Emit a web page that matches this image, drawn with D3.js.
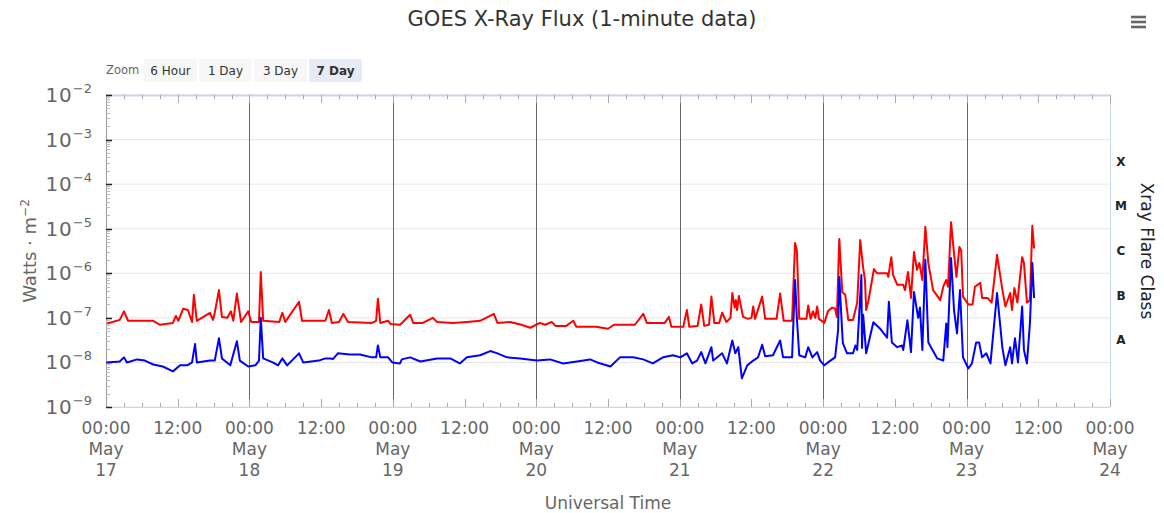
<!DOCTYPE html>
<html>
<head>
<meta charset="utf-8">
<script src="https://cdn.jsdelivr.net/npm/d3@7"></script>
<style>
  body { margin: 0; background: #fff; }
  svg text { font-family: "DejaVu Sans", sans-serif; }
</style>
</head>
<body>
<div id="graf"></div>
<script>
// hours since May 17 00:00 UTC, flux in W/m2
const longTimes = [0.2, 2.3, 3.0, 3.7, 5.2, 7.9, 9.0, 11.2, 11.7, 12.1, 12.9, 13.7, 14.4, 14.7, 15.2, 17.4, 17.9, 18.2, 18.9, 19.4,
  20.3, 20.9, 21.3, 21.9, 22.6, 23.8, 24.3, 25.6, 25.9, 26.3, 29.0, 29.5, 30.0, 32.3, 32.8, 35.6, 36.7, 37.3, 37.8, 39.0,
  39.7, 40.5, 44.5, 45.2, 45.5, 45.9, 47.2, 47.6, 49.2, 50.9, 51.4, 53.0, 54.7, 55.4, 58.0, 60.4, 62.6, 64.9, 65.5, 67.6,
  69.5, 71.0, 72.6, 73.5, 74.6, 75.2, 77.0, 78.2, 78.7, 82.0, 84.0, 85.0, 88.5, 89.9, 90.5, 93.5, 94.2, 94.6, 96.6, 97.2,
  97.6, 99.0, 99.6, 100.1, 100.9, 101.3, 101.8, 102.6, 103.1, 103.8, 104.5, 104.8, 105.2, 105.4, 105.6, 105.9, 106.6, 107.4, 108.0, 108.3,
  108.6, 109.8, 110.3, 112.2, 112.8, 113.4, 114.8, 115.3, 115.6, 116.0, 117.2, 117.5, 117.9, 118.3, 118.7, 119.0, 119.3, 120.2, 120.8, 121.5,
  122.0, 122.3, 122.7, 123.2, 123.7, 124.2, 125.0, 125.4, 125.7, 126.2, 126.7, 127.0, 127.2, 127.6, 128.5, 129.0, 130.7, 130.9, 131.4, 131.7,
  132.4, 133.4, 133.7, 134.2, 134.7, 135.2, 135.7, 136.1, 136.6, 137.1, 137.6, 138.4, 139.6, 140.1, 140.6, 140.9, 141.4, 141.9, 142.3, 142.8,
  143.1, 143.4, 144.3, 145.0, 145.4, 146.3, 146.6, 147.5, 148.2, 149.1, 150.0, 150.5, 151.3, 151.6, 152.0, 152.5, 153.3, 153.6, 154.1, 154.6,
  155.0, 155.3];
const longFlux = [7.5e-8, 9.0e-8, 1.4e-7, 8.6e-8, 8.6e-8, 8.6e-8, 7.0e-8, 7.7e-8, 1.1e-7, 8.6e-8, 1.6e-7, 1.5e-7, 8.1e-8, 3.3e-7, 8.6e-8, 1.3e-7, 9.0e-8, 1.3e-7, 4.2e-7, 1.05e-7,
  1.0e-7, 1.4e-7, 8.6e-8, 3.5e-7, 8.1e-8, 1.4e-7, 8.1e-8, 8.1e-8, 1.07e-6, 8.6e-8, 8.1e-8, 1.3e-7, 8.1e-8, 2.3e-7, 8.6e-8, 8.6e-8, 8.6e-8, 1.5e-7, 7.7e-8, 8.1e-8,
  1.23e-7, 8.1e-8, 7.7e-8, 8.6e-8, 2.7e-7, 7.7e-8, 8.6e-8, 7.3e-8, 7.0e-8, 1.17e-7, 7.7e-8, 7.7e-8, 1.0e-7, 8.1e-8, 7.7e-8, 8.1e-8, 8.6e-8, 1.23e-7, 7.7e-8, 8.1e-8,
  7.0e-8, 6.0e-8, 7.7e-8, 7.0e-8, 8.1e-8, 6.6e-8, 6.6e-8, 8.6e-8, 6.3e-8, 6.3e-8, 5.7e-8, 7.0e-8, 7.0e-8, 1.23e-7, 7.7e-8, 7.7e-8, 1.05e-7, 6.3e-8, 6.3e-8, 1.5e-7,
  6.3e-8, 6.6e-8, 2.0e-7, 6.6e-8, 7.0e-8, 3.0e-7, 7.7e-8, 7.7e-8, 1.3e-7, 8.1e-8, 1.0e-7, 3.6e-7, 1.7e-7, 2.5e-7, 1.5e-7, 3.1e-7, 1.05e-7, 9.5e-8, 1.0e-7, 1.8e-7,
  9.5e-8, 3.0e-7, 9.5e-8, 9.5e-8, 3.5e-7, 8.6e-8, 8.6e-8, 4.8e-6, 3.3e-6, 9.5e-8, 9.5e-8, 1.9e-7, 9.5e-8, 1.4e-7, 1.0e-7, 1.8e-7, 9.5e-8, 7.7e-8, 1.4e-7, 1.7e-7,
  1.6e-7, 1.05e-7, 5.9e-6, 3.8e-7, 3.3e-7, 9.0e-8, 9.0e-8, 1.5e-7, 2.2e-7, 5.6e-6, 1.3e-6, 7.1e-7, 1.5e-7, 2.5e-7, 1.25e-6, 1.0e-6, 1.0e-6, 8.3e-7, 2.3e-6, 9.2e-7,
  5.5e-7, 5.5e-7, 4.2e-7, 1.07e-6, 2.8e-7, 3.0e-6, 1.2e-6, 1.7e-6, 7.1e-7, 1.1e-5, 1.7e-6, 4.2e-7, 2.5e-7, 5.0e-7, 7.1e-7, 5.0e-7, 1.4e-5, 2.8e-6, 8.3e-7, 3.9e-6,
  3.3e-6, 3.0e-7, 2.0e-7, 2.0e-7, 5.0e-7, 6.1e-7, 2.8e-7, 2.8e-7, 2.2e-7, 2.6e-6, 4.2e-7, 1.8e-7, 3.6e-7, 1.5e-7, 4.7e-7, 2.2e-7, 2.3e-6, 1.7e-6, 2.2e-7, 2.5e-7,
  1.16e-5, 3.6e-6];

const shortTimes = [0.2, 2.3, 3.0, 3.5, 5.2, 6.5, 7.9, 9.5, 11.2, 12.4, 13.6, 14.4, 14.9, 15.2, 17.4, 18.2, 18.9, 19.4, 20.8, 21.9,
  22.4, 23.8, 25.0, 25.6, 25.9, 26.3, 27.9, 28.8, 29.5, 30.3, 32.3, 33.0, 35.6, 36.7, 37.5, 38.0, 38.8, 40.8, 42.5, 44.5,
  45.2, 45.5, 45.9, 47.2, 47.9, 49.2, 49.5, 50.9, 52.6, 55.4, 57.6, 59.2, 60.4, 62.6, 64.3, 65.5, 67.1, 69.3, 72.1, 74.3,
  76.5, 78.8, 81.0, 82.2, 84.4, 86.0, 88.2, 89.9, 91.5, 93.2, 94.9, 96.1, 97.2, 98.1, 98.9, 99.6, 100.3, 101.3, 101.6, 103.1,
  103.9, 104.8, 105.3, 105.8, 106.4, 107.3, 108.3, 109.1, 109.8, 110.3, 111.6, 112.8, 113.3, 114.8, 115.3, 115.6, 116.0, 117.0, 117.5, 118.2,
  119.0, 119.5, 120.2, 120.8, 122.0, 122.5, 122.7, 123.2, 123.3, 124.0, 125.0, 125.4, 125.7, 126.4, 126.5, 126.7, 127.2, 128.4, 129.5, 130.7,
  131.0, 131.5, 132.4, 133.2, 133.4, 134.1, 134.7, 135.2, 135.9, 136.2, 136.6, 137.1, 137.6, 139.1, 140.1, 140.6, 140.8, 141.4, 141.9, 142.4,
  142.9, 143.4, 144.3, 144.9, 145.6, 146.1, 146.6, 147.3, 148.0, 149.1, 150.0, 150.5, 151.3, 151.6, 152.1, 152.6, 153.3, 153.6, 154.1, 154.6,
  155.0, 155.3];
const shortFlux = [1.0e-8, 1.05e-8, 1.3e-8, 1.0e-8, 1.17e-8, 1.1e-8, 9.0e-9, 8.1e-9, 6.3e-9, 8.6e-9, 8.6e-9, 1.0e-8, 2.6e-8, 1.0e-8, 1.1e-8, 1.1e-8, 3.5e-8, 1.23e-8, 8.6e-9, 3.0e-8,
  1.1e-8, 8.1e-9, 8.6e-9, 1.1e-8, 1.0e-7, 1.23e-8, 1.0e-8, 8.6e-9, 1.23e-8, 8.6e-9, 1.6e-8, 1.0e-8, 1.1e-8, 1.23e-8, 1.23e-8, 1.2e-8, 1.6e-8, 1.5e-8, 1.5e-8, 1.3e-8,
  1.3e-8, 2.4e-8, 1.3e-8, 1.3e-8, 1.0e-8, 9.5e-9, 1.17e-8, 1.3e-8, 1.05e-8, 1.23e-8, 1.23e-8, 9.5e-9, 1.3e-8, 1.45e-8, 1.8e-8, 1.6e-8, 1.3e-8, 1.23e-8, 1.1e-8, 1.17e-8,
  9.5e-9, 1.05e-8, 1.17e-8, 1.0e-8, 8.1e-9, 1.3e-8, 1.3e-8, 1.17e-8, 9.5e-9, 1.3e-8, 1.45e-8, 1.3e-8, 1.6e-8, 9.5e-9, 1.1e-8, 1.7e-8, 9.5e-9, 2.2e-8, 1.1e-8, 1.6e-8,
  9.5e-9, 3.1e-8, 1.6e-8, 2.2e-8, 4.4e-9, 8.6e-9, 1.1e-8, 1.3e-8, 2.5e-8, 1.37e-8, 1.45e-8, 3.1e-8, 1.3e-8, 1.3e-8, 7.1e-7, 1.0e-7, 1.45e-8, 1.3e-8, 2.2e-8, 1.3e-8,
  1.7e-8, 1.1e-8, 8.6e-9, 1.0e-8, 1.3e-8, 5.2e-8, 8.3e-7, 4.5e-8, 2.7e-8, 1.6e-8, 1.6e-8, 2.4e-8, 1.9e-8, 9.2e-7, 2.1e-8, 1.17e-7, 1.6e-8, 8.0e-8, 5.8e-8, 3.6e-8,
  2.3e-7, 2.8e-8, 2.2e-8, 2.4e-8, 1.9e-8, 8.8e-8, 1.7e-8, 3.8e-7, 1.0e-7, 1.7e-7, 1.9e-8, 2.0e-6, 2.8e-8, 1.23e-8, 1.1e-8, 7.5e-8, 2.2e-8, 2.2e-6, 1.5e-7, 4.5e-8,
  4.2e-7, 1.3e-8, 7.3e-9, 9.5e-9, 2.8e-8, 2.8e-8, 1.3e-8, 1.6e-8, 9.5e-9, 3.6e-7, 2.1e-8, 8.6e-9, 2.2e-8, 9.5e-9, 3.5e-8, 1.0e-8, 1.8e-7, 1.9e-8, 9.5e-9, 7.5e-8,
  1.7e-6, 2.8e-7];

const yTicks = [1e-9, 1e-8, 1e-7, 1e-6, 1e-5, 1e-4, 1e-3, 1e-2];
const flareClasses = ["A", "B", "C", "M", "X"];
const flareLower = [1e-8, 1e-7, 1e-6, 1e-5, 1e-4];
const zoomButtons = ["6 Hour", "1 Day", "3 Day", "7 Day"];
const startDate = Date.UTC(2024, 4, 17);
const dayCount = 7;

const anchoTotal = 1164, altoTotal = 513;
const margins = { top: 95, right: 54, bottom: 106, left: 106 };
const ancho = anchoTotal - margins.left - margins.right;
const alto = altoTotal - margins.top - margins.bottom;

const svg = d3.select("#graf").append("svg")
  .attr("width", anchoTotal).attr("height", altoTotal);

const x = d3.scaleUtc()
  .domain([new Date(startDate), new Date(startDate + dayCount * 864e5)])
  .range([0, ancho]);
const y = d3.scaleLog().domain([1e-9, 1e-2]).range([alto, 0]);
const toDate = (h) => new Date(startDate + h * 36e5);

// titulo
svg.append("text").attr("x", 582).attr("y", 26).attr("text-anchor", "middle")
  .attr("font-size", 21).attr("fill", "#333").text("GOES X-Ray Flux (1-minute data)");

// menu icon
[17, 22, 27].forEach((yy) => {
  svg.append("line").attr("x1", 1131).attr("x2", 1146).attr("y1", yy).attr("y2", yy)
    .attr("stroke", "#666").attr("stroke-width", 2.6);
});

// zoom buttons
svg.append("text").attr("x", 106).attr("y", 74).attr("font-size", 11.5).attr("fill", "#666").text("Zoom");
const btn = svg.selectAll("g.btn").data(zoomButtons).join("g")
  .attr("transform", (d, i) => `translate(${144 + i * 55}, 59)`);
btn.append("rect").attr("width", 53).attr("height", 23).attr("rx", 2)
  .attr("fill", (d, i) => i == 3 ? "#e6ebf5" : "#f7f7f7");
btn.append("text").attr("x", 26.5).attr("y", 15.5).attr("text-anchor", "middle")
  .attr("font-size", 12).attr("fill", "#333")
  .attr("font-weight", (d, i) => i == 3 ? "bold" : "normal").text((d) => d);

const g = svg.append("g").attr("transform", `translate(${margins.left}, ${margins.top})`);

// grid
g.append("g").selectAll("line").data(yTicks).join("line")
  .attr("x1", 0).attr("x2", ancho).attr("y1", (d) => y(d)).attr("y2", (d) => y(d))
  .attr("stroke", "#e6e6e6");
g.append("line").attr("x1", ancho + 0.5).attr("x2", ancho + 0.5).attr("y1", 0).attr("y2", alto)
  .attr("stroke", "#ccd6eb");

// day lines
const days = d3.range(1, dayCount).map((d) => new Date(startDate + d * 864e5));
g.append("g").selectAll("line").data(days).join("line")
  .attr("x1", (d) => Math.round(x(d)) + 0.5).attr("x2", (d) => Math.round(x(d)) + 0.5)
  .attr("y1", 2).attr("y2", alto - 7).attr("stroke", "#666");

// top and bottom axis lines with inside ticks
const ticks3h = d3.range(0, dayCount * 24 + 1, 3).map(toDate);
[0, alto].forEach((yy, k) => {
  g.append("line").attr("x1", 0).attr("x2", ancho).attr("y1", yy + 0.5).attr("y2", yy + 0.5)
    .attr("stroke", "#ccd6eb").attr("stroke-width", k == 0 ? 2 : 1);
  const dir = k == 0 ? 1 : -1;
  g.append("g").selectAll("line").data(ticks3h).join("line")
    .attr("x1", (d) => Math.round(x(d)) + 0.5).attr("x2", (d) => Math.round(x(d)) + 0.5)
    .attr("y1", yy).attr("y2", (d) => yy + dir * (d.getUTCHours() % 12 == 0 ? 8 : 4))
    .attr("stroke", "#aaa");
});

// left axis
g.append("line").attr("x1", 0.5).attr("x2", 0.5).attr("y1", 0).attr("y2", alto).attr("stroke", "#999");
const minor = [];
yTicks.slice(0, -1).forEach((t) => d3.range(2, 10).forEach((k) => minor.push(t * k)));
g.append("g").selectAll("line").data(minor).join("line")
  .attr("x1", 0).attr("x2", 4).attr("y1", (d) => Math.round(y(d)) + 0.5).attr("y2", (d) => Math.round(y(d)) + 0.5)
  .attr("stroke", "#bbb");
g.append("g").selectAll("line").data(yTicks).join("line")
  .attr("x1", 0).attr("x2", 6).attr("y1", (d) => Math.round(y(d)) + 0.5).attr("y2", (d) => Math.round(y(d)) + 0.5)
  .attr("stroke", "#222").attr("stroke-width", 1.5);

// y tick labels 10^n
const yl = g.append("g").selectAll("text").data(yTicks).join("text")
  .attr("text-anchor", "end").attr("fill", "#666")
  .attr("transform", (d) => `translate(-14, ${y(d) + 7})`);
yl.append("tspan").attr("font-size", 20).attr("letter-spacing", 1).text("10");
yl.append("tspan").attr("font-size", 13).attr("dy", -9).text((d) => "\u2212" + Math.round(-Math.log10(d)));

// x tick labels
const labelTicks = d3.range(0, dayCount * 24 + 1, 12).map(toDate);
const fmtMonth = d3.utcFormat("%B");
const xl = g.append("g").selectAll("text").data(labelTicks).join("text")
  .attr("text-anchor", "middle").attr("fill", "#666").attr("font-size", 17)
  .attr("transform", (d) => `translate(${x(d)}, ${alto + 27})`);
xl.append("tspan").attr("x", 0).text((d) => d3.utcFormat("%H:%M")(d));
xl.filter((d) => d.getUTCHours() == 0).append("tspan").attr("x", 0).attr("dy", 21).text((d) => fmtMonth(d));
xl.filter((d) => d.getUTCHours() == 0).append("tspan").attr("x", 0).attr("dy", 21).text((d) => d.getUTCDate());

// axis titles
svg.append("text").attr("x", 608).attr("y", 509).attr("text-anchor", "middle")
  .attr("font-size", 17).attr("fill", "#666").text("Universal Time");
const yt = svg.append("text").attr("transform", "translate(36, 251) rotate(-90)")
  .attr("text-anchor", "middle").attr("font-size", 18).attr("fill", "#666");
yt.append("tspan").text("Watts \u00b7 m");
yt.append("tspan").attr("font-size", 12).attr("dy", -7).text("\u22122");

// flare class labels
g.append("g").selectAll("text").data(flareClasses).join("text")
  .attr("x", ancho + 11).attr("y", (d, i) => y(flareLower[i] * Math.sqrt(10)) + 4)
  .attr("text-anchor", "middle").attr("font-family", "DejaVu Sans Mono").attr("font-weight", "bold")
  .attr("font-size", 12).attr("fill", "#222").text((d) => d);
svg.append("text").attr("transform", "translate(1141, 251) rotate(90)")
  .attr("text-anchor", "middle").attr("font-size", 17).attr("fill", "#222").text("Xray Flare Class");

// series
const line = d3.line().x((d) => x(toDate(d[0]))).y((d) => y(d[1]));
const longData = d3.zip(longTimes, longFlux);
const shortData = d3.zip(shortTimes, shortFlux);
g.append("path").datum(longData).attr("d", line).attr("fill", "none")
  .attr("stroke", "#ff0000").attr("stroke-width", 2).attr("stroke-linejoin", "round");
g.append("path").datum(shortData).attr("d", line).attr("fill", "none")
  .attr("stroke", "#0000ff").attr("stroke-width", 2).attr("stroke-linejoin", "round");
</script>
</body>
</html>
